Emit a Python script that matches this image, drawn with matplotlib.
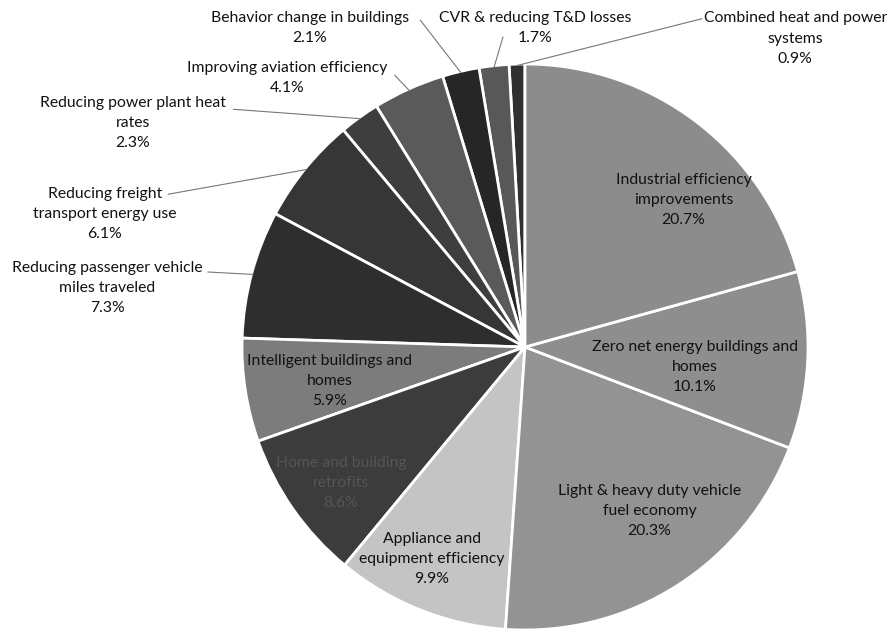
import numpy as np
import matplotlib
matplotlib.use("Agg")
import matplotlib.pyplot as plt

# ─── data ───────────────────────────────────────────────────────────
categories = [
    "Industrial efficiency\nimprovements",
    "Zero net energy buildings and\nhomes",
    "Light & heavy duty vehicle\nfuel economy",
    "Appliance and\nequipment efficiency",
    "Home and building\nretrofits",
    "Intelligent buildings and\nhomes",
    "Reducing passenger vehicle\nmiles traveled",
    "Reducing freight\ntransport energy use",
    "Reducing power plant heat\nrates",
    "Improving aviation efficiency",
    "Behavior change in buildings",
    "CVR & reducing T&D losses",
    "Combined heat and power\nsystems",
]
shares = [20.7, 10.1, 20.3, 9.9, 8.6, 5.9, 7.3, 6.1, 2.3, 4.1, 2.1, 1.7, 0.9]

colors = ["#8c8c8c", "#8e8e8e", "#939393", "#c4c4c4", "#3c3c3c", "#7c7c7c",
          "#2e2e2e", "#363636", "#3e3e3e", "#5a5a5a", "#262626", "#585858", "#303030"]

# label placement in pie units
label_pos = [
    (0.56, 0.52), (0.60, -0.07), (0.44, -0.58), (-0.33, -0.75),
    (-0.65, -0.48), (-0.69, -0.12),
    (-1.477, 0.21), (-1.485, 0.47), (-1.385, 0.79), (-0.84, 0.95),
    (-0.76, 1.127), (0.035, 1.127), (0.955, 1.09),
]
outside = [False] * 6 + [True] * 7
# where each leader line starts, near its label
leader_start = [
    None, None, None, None, None, None,
    (-1.12, 0.265), (-1.26, 0.54), (-1.03, 0.84), (-0.46, 0.96),
    (-0.37, 1.155), (-0.078, 1.095), (0.625, 1.16),
]

plt.rcParams["font.family"] = ["Lato", "DejaVu Sans"]

fig = plt.figure(figsize=(8.92, 6.32), dpi=100)
W, H = 892, 632
cx, cy, r = 525, 347, 283
ax = fig.add_axes([(cx - r) / W, (H - cy - r) / H, 2 * r / W, 2 * r / H])

# clockwise from 12 o'clock
wedges, _ = ax.pie(shares[::-1], colors=colors[::-1], startangle=90,
                   radius=1.0, wedgeprops=dict(edgecolor="white", linewidth=2))
wedges = wedges[::-1]
ax.set_xlim(-1, 1)
ax.set_ylim(-1, 1)
ax.set_aspect("equal")
ax.axis("off")

FS = 11.3
LS = 1.55
for i, (w, name, val) in enumerate(zip(wedges, categories, shares)):
    tx, ty = label_pos[i]
    txt = f"{name}\n{val}%"
    if not outside[i]:
        tcol = "#111111" if i != 4 else "#555555"
        ax.text(tx, ty, txt, ha="center", va="center", fontsize=FS,
                color=tcol, linespacing=LS)
    else:
        ang = np.deg2rad((w.theta1 + w.theta2) / 2)
        ex, ey = np.cos(ang), np.sin(ang)
        sx, sy = leader_start[i]
        ax.plot([sx, ex * 0.995], [sy, ey * 0.995], color="#777777", lw=0.8,
                clip_on=False)
        ax.text(tx, ty, txt, ha="center", va="center", fontsize=FS,
                color="#111111", linespacing=LS)

fig.savefig("out.png", dpi=100, facecolor="white")
